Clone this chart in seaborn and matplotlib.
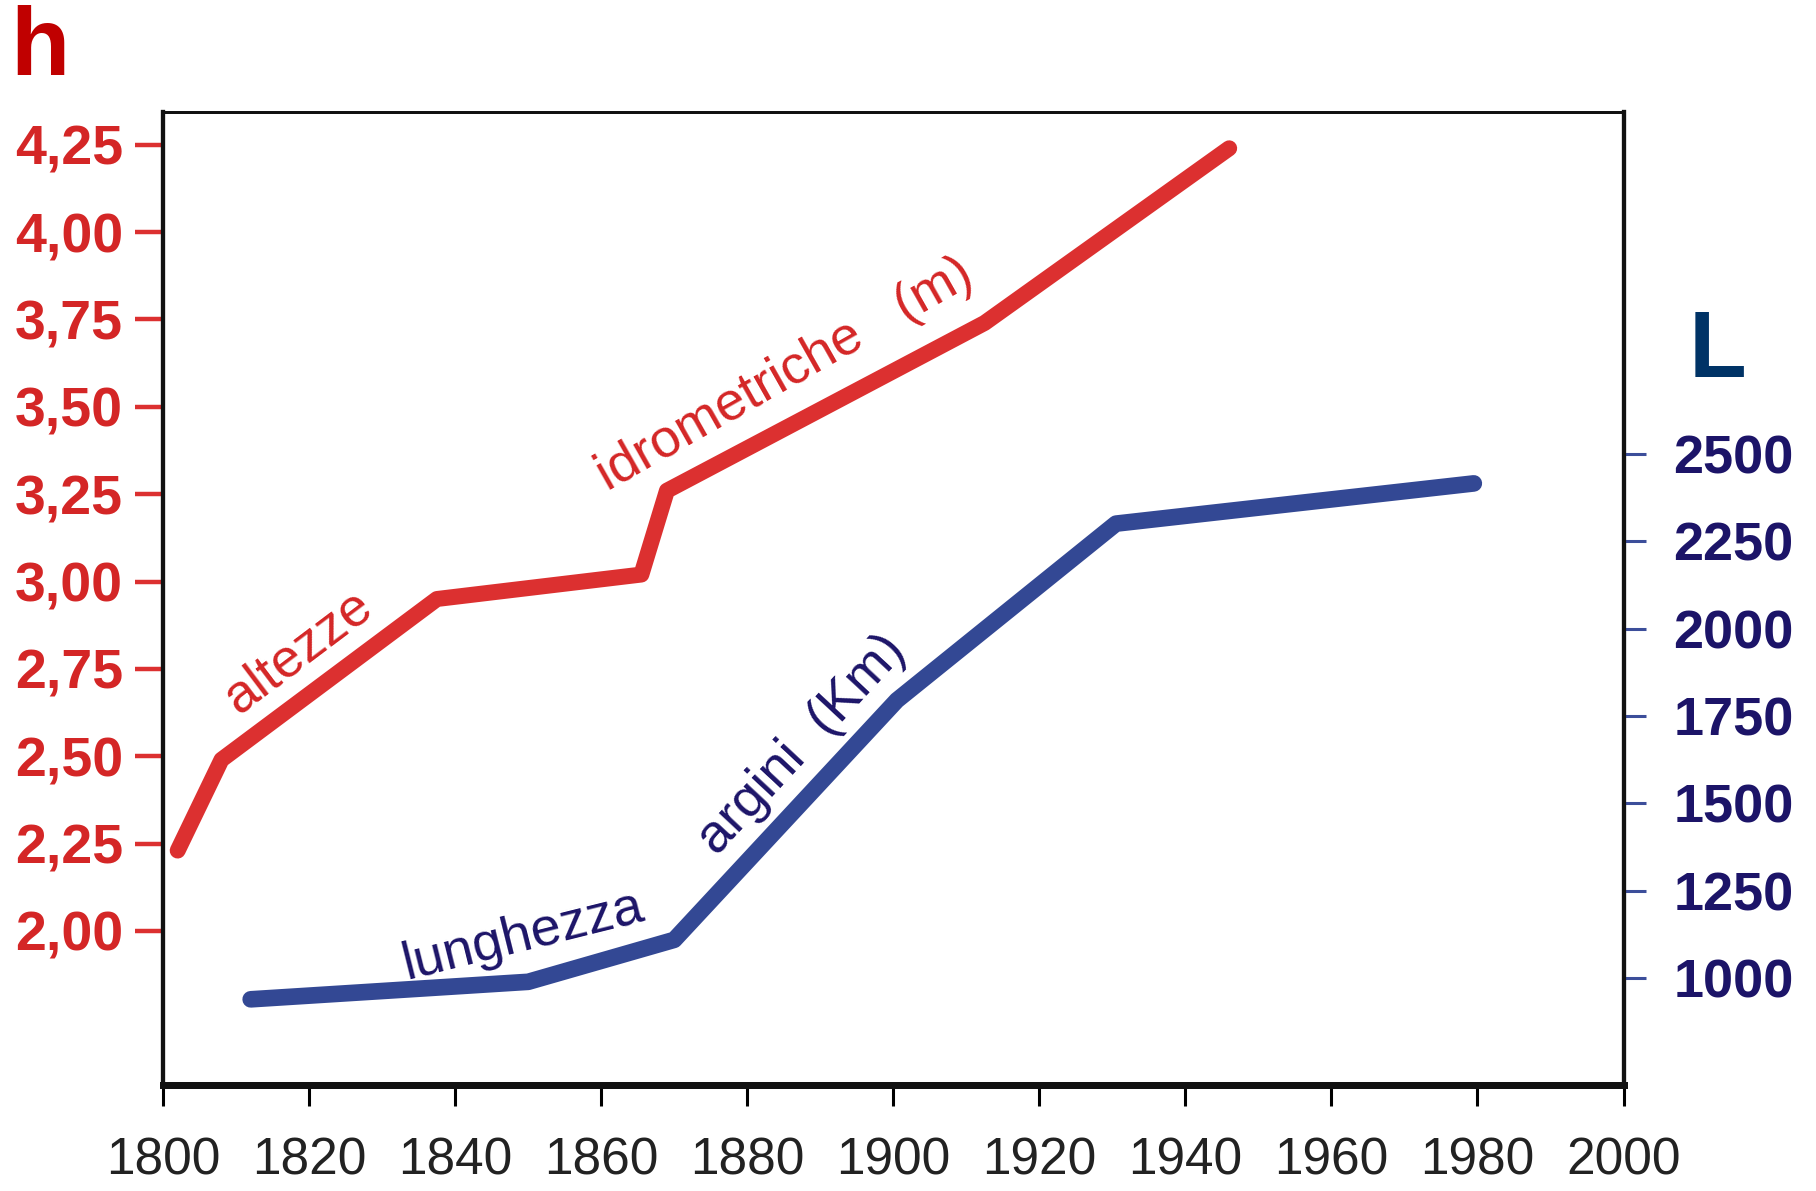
import matplotlib
matplotlib.use("Agg")
import matplotlib.pyplot as plt
import seaborn as sns
import pandas as pd

# altezze idrometriche (m), asse sinistro
anni_h = [1802, 1808, 1837.5, 1865.5, 1869, 1912.5, 1946]
altezze = [2.23, 2.49, 2.95, 3.02, 3.26, 3.74, 4.24]

# lunghezza argini (Km), asse destro
anni_l = [1812, 1850, 1870, 1900.5, 1930.5, 1979.5]
lunghezza = [940, 990, 1110, 1795, 2300, 2415]

x_ticks = [1800, 1820, 1840, 1860, 1880, 1900, 1920, 1940, 1960, 1980, 2000]
h_ticks = [2.00, 2.25, 2.50, 2.75, 3.00, 3.25, 3.50, 3.75, 4.00, 4.25]
h_labels = ["2,00", "2,25", "2,50", "2,75", "3,00", "3,25", "3,50", "3,75", "4,00", "4,25"]
l_ticks = [1000, 1250, 1500, 1750, 2000, 2250, 2500]

sns.set_theme(style="white")
plt.rcParams['font.family'] = ['Liberation Sans', 'DejaVu Sans']

RED = "#dc3030"
RED_TXT = "#d42626"
BLUE = "#334894"
BLUE_TXT = "#1c1468"

df_h = pd.DataFrame({"anno": anni_h, "h": altezze})
df_l = pd.DataFrame({"anno": anni_l, "L": lunghezza})

fig = plt.figure(figsize=(18.16, 11.91), dpi=100)
ax = fig.add_axes([0.0898, 0.089, 0.8042, 0.817])
ax2 = ax.twinx()
ax2.set_position([0.0898, 0.089, 0.8042, 0.817])

sns.lineplot(data=df_h, x="anno", y="h", ax=ax, color=RED, linewidth=11.5,
             solid_capstyle="round", solid_joinstyle="round")
sns.lineplot(data=df_l, x="anno", y="L", ax=ax2, color=BLUE, linewidth=12,
             solid_capstyle="round", solid_joinstyle="round")

ax.set_xlim(1800, 2000)
ax.set_ylim(1.559, 4.344)
ax2.set_ylim(695, 3477)

ax.set_xticks(x_ticks)
ax.set_xticklabels([str(t) for t in x_ticks], fontsize=37, color="#222222")
ax.set_yticks(h_ticks)
ax.set_yticklabels(h_labels, fontsize=40, fontweight="bold", color=RED_TXT)
ax2.set_yticks(l_ticks)
ax2.set_yticklabels([str(t) for t in l_ticks], fontsize=39, fontweight="bold", color=BLUE_TXT)

ax.tick_params(axis="x", direction="out", length=15, width=2.2, color="black", pad=22, bottom=True)
ax.tick_params(axis="y", direction="out", length=20, width=3.2, color=RED, pad=9, left=True)
ax2.tick_params(axis="y", direction="out", length=16, width=2.2, color="#3c4e9a", pad=20, right=True)

ax.set_xlabel("")
ax.set_ylabel("")
ax2.set_ylabel("")

for a in (ax, ax2):
    for s in a.spines.values():
        s.set_color("#111111")
    a.spines["left"].set_linewidth(3)
    a.spines["right"].set_linewidth(3)
    a.spines["top"].set_linewidth(2)
    a.spines["bottom"].set_linewidth(5)
    a.grid(False)

# etichette lungo le curve
ax.text(1818.6, 2.80, "altezze", rotation=37, color=RED_TXT, fontsize=39,
        ha="center", va="center", rotation_mode="anchor")
ax.text(1885.2, 3.59, "idrometriche   (m)", rotation=29.5, color=RED_TXT, fontsize=39,
        ha="center", va="center", rotation_mode="anchor")
ax2.text(1849.3, 1120, "lunghezza", rotation=14, color=BLUE_TXT, fontsize=39,
         ha="center", va="center", rotation_mode="anchor")
ax2.text(1887.5, 1668, "argini  (Km)", rotation=47, color=BLUE_TXT, fontsize=39,
         ha="center", va="center", rotation_mode="anchor")

fig.text(0.022, 0.958, "h", color="#c00000", fontsize=70, fontweight="bold",
         ha="center", va="center")
fig.text(0.946, 0.704, "L", color="#003366", fontsize=68, fontweight="bold",
         ha="center", va="center")

fig.savefig("out.png", dpi=100)
